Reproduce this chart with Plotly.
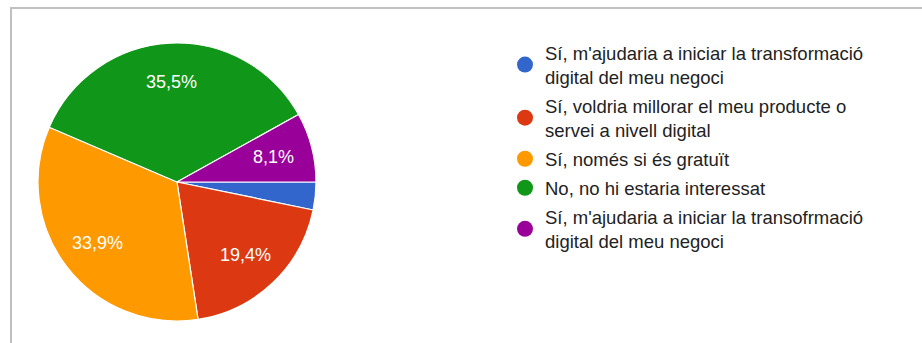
import math
import plotly.graph_objects as go

# Survey answers (counts out of 62 responses)
labels = [
    "Sí, m'ajudaria a iniciar la transformació<br>digital del meu negoci",
    "Sí, voldria millorar el meu producte o<br>servei a nivell digital",
    "Sí, només si és gratuït",
    "No, no hi estaria interessat",
    "Sí, m'ajudaria a iniciar la transofrmació<br>digital del meu negoci",
]
counts = [2, 12, 21, 22, 5]
slice_text = ["", "19,4%", "33,9%", "35,5%", "8,1%"]
colors = ["#3366cc", "#dc3912", "#ff9900", "#109618", "#990099"]

FONT = "Liberation Sans, Arial, sans-serif"
W, H = 922, 343

# Pie geometry (pixels)
PIE_X0, PIE_X1 = 38, 316
PIE_Y0, PIE_Y1 = 43, 321          # top / bottom in screen pixels
CX, CY = (PIE_X0 + PIE_X1) / 2, (PIE_Y0 + PIE_Y1) / 2
R = (PIE_X1 - PIE_X0) / 2
START_DEG = 0                      # slices start at 3 o'clock, clockwise
LABEL_FRAC = 0.72

fig = go.Figure()

fig.add_trace(go.Pie(
    values=counts,
    labels=labels,
    textinfo="none",
    marker=dict(colors=colors, line=dict(color="white", width=1.2)),
    sort=False,
    direction="clockwise",
    rotation=90,
    showlegend=False,
    hoverinfo="label+percent",
    domain=dict(x=[PIE_X0 / W, PIE_X1 / W], y=[1 - PIE_Y1 / H, 1 - PIE_Y0 / H]),
))

# Slice labels placed along each slice's mid-angle
total = sum(counts)
annotations = []
cum = 0
for c, t in zip(counts, slice_text):
    mid = (cum + c / 2) / total
    cum += c
    if not t:
        continue
    ang = math.radians(START_DEG + 360 * mid)
    px = CX + LABEL_FRAC * R * math.cos(ang)
    py = CY + LABEL_FRAC * R * math.sin(ang)
    annotations.append(dict(
        x=px / W, y=1 - py / H, xref="paper", yref="paper",
        text=t, showarrow=False, xanchor="center", yanchor="middle",
        font=dict(color="white", size=18, family=FONT),
    ))

# Legend entries with round markers
for i, (lab, col) in enumerate(zip(labels, colors)):
    fig.add_trace(go.Scatter(
        x=[None], y=[None], mode="markers", name=lab,
        legendgroup=f"g{i}",
        marker=dict(color=col, size=17, symbol="circle"),
        showlegend=True, hoverinfo="skip",
    ))

fig.update_layout(
    width=W, height=H,
    margin=dict(l=0, r=0, t=0, b=0),
    paper_bgcolor="white", plot_bgcolor="white",
    xaxis=dict(visible=False), yaxis=dict(visible=False),
    font=dict(family=FONT, size=18, color="#222222"),
    annotations=annotations,
    legend=dict(
        x=505 / W, y=1 - 34 / H, xanchor="left", yanchor="top",
        font=dict(size=18.5, color="#222222", family=FONT),
        itemwidth=30, tracegroupgap=2, bgcolor="rgba(0,0,0,0)",
    ),
    shapes=[dict(
        type="rect", xref="paper", yref="paper",
        x0=11 / W, x1=1.05, y0=-0.05, y1=1 - 8 / H,
        line=dict(color="#c0c0c0", width=2), fillcolor="rgba(0,0,0,0)",
    )],
)

fig.write_html("out.html")
